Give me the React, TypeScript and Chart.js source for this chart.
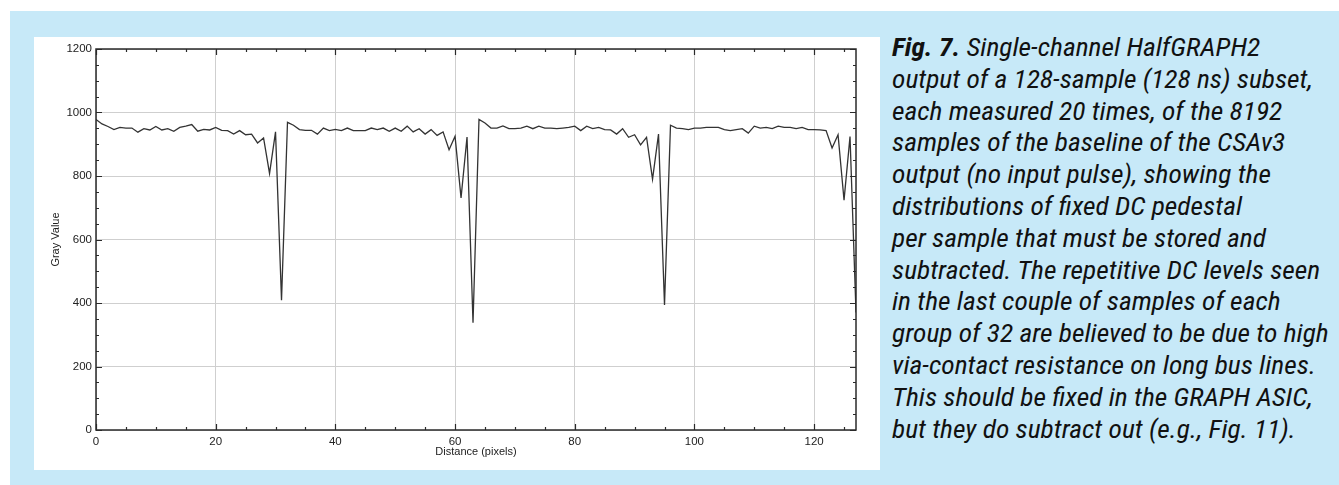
import React, { useEffect, useRef } from "react";
import { Chart, registerables } from "chart.js";

Chart.register(...registerables);

// Gray value per sample, four groups of 32 samples (x = 0..127)
const group1 = [978, 964, 956, 946, 953, 951, 951, 938, 949, 945, 956, 945, 949, 941, 953, 957, 962, 941, 947, 945, 953, 944, 943, 932, 943, 930, 932, 904, 920, 808, 939, 409];
const group2 = [969, 960, 946, 944, 944, 932, 951, 943, 947, 943, 951, 943, 943, 943, 951, 946, 951, 941, 951, 941, 957, 939, 949, 932, 946, 928, 939, 883, 925, 731, 923, 338];
const group3 = [978, 967, 951, 951, 958, 949, 949, 951, 957, 949, 957, 951, 951, 949, 951, 953, 957, 943, 957, 949, 953, 946, 945, 932, 949, 922, 930, 898, 922, 790, 932, 394];
const group4 = [960, 951, 949, 946, 951, 951, 953, 953, 953, 946, 943, 946, 949, 935, 957, 951, 953, 949, 957, 953, 953, 949, 953, 946, 946, 945, 943, 888, 930, 724, 924, 370];

const grayValues = [...group1, ...group2, ...group3, ...group4];

const xTickValues = [0, 20, 40, 60, 80, 100, 120];
const yTickValues = [0, 200, 400, 600, 800, 1000, 1200];
const xLabel = "Distance (pixels)";
const yLabel = "Gray Value";

const captionLines = [
  "Single-channel HalfGRAPH2",
  "output of a 128-sample (128 ns) subset,",
  "each measured 20 times, of the 8192",
  "samples of the baseline of the CSAv3",
  "output (no input pulse), showing the",
  "distributions of fixed DC pedestal",
  "per sample that must be stored and",
  "subtracted. The repetitive DC levels seen",
  "in the last couple of samples of each",
  "group of 32 are believed to be due to high",
  "via-contact resistance on long bus lines.",
  "This should be fixed in the GRAPH ASIC,",
  "but they do subtract out (e.g., Fig. 11).",
];

const framePlugin = {
  id: "frameTicks",
  afterDatasetsDraw(chart: any) {
    const { ctx, chartArea, scales } = chart;
    const xs = scales.x;
    const ys = scales.y;
    const { left, right, top, bottom } = chartArea;
    ctx.save();
    ctx.strokeStyle = "#2a2a2a";
    ctx.lineWidth = 1.2;
    for (let v = 0; v <= 127; v += 5) {
      const px = Math.round(xs.getPixelForValue(v)) + 0.5;
      const len = v % 20 === 0 ? 6 : 3;
      ctx.beginPath();
      ctx.moveTo(px, bottom);
      ctx.lineTo(px, bottom - len);
      ctx.moveTo(px, top);
      ctx.lineTo(px, top + len);
      ctx.stroke();
    }
    for (let v = 0; v <= 1200; v += 50) {
      const py = Math.round(ys.getPixelForValue(v)) + 0.5;
      const len = v % 200 === 0 ? 6 : 3;
      ctx.beginPath();
      ctx.moveTo(left, py);
      ctx.lineTo(left + len, py);
      ctx.moveTo(right, py);
      ctx.lineTo(right - len, py);
      ctx.stroke();
    }
    ctx.lineWidth = 1.5;
    ctx.strokeRect(left, top, right - left, bottom - top);
    ctx.restore();
  },
};

function App() {
  const canvasRef = useRef<HTMLCanvasElement | null>(null);

  useEffect(() => {
    if (!canvasRef.current) return;
    const points = grayValues.map((v, i) => ({ x: i, y: v }));
    const tickFont = { family: "'Liberation Sans', Arial, sans-serif", size: 11.5 };
    const titleFont = { family: "'Liberation Sans', Arial, sans-serif", size: 11 };
    const chart = new Chart(canvasRef.current, {
      type: "line",
      data: {
        datasets: [
          {
            data: points,
            borderColor: "#333333",
            borderWidth: 1.3,
            pointRadius: 0,
            tension: 0,
            fill: false,
          },
        ],
      },
      options: {
        animation: false,
        responsive: false,
        maintainAspectRatio: false,
        layout: { padding: { left: 0, top: 12, right: 24, bottom: 0 } },
        plugins: { legend: { display: false }, tooltip: { enabled: false } },
        scales: {
          x: {
            type: "linear",
            min: 0,
            max: 127,
            afterBuildTicks: (scale: any) => {
              scale.ticks = xTickValues.map((v) => ({ value: v }));
            },
            afterFit: (scale: any) => {
              scale.height = 40;
            },
            ticks: { font: tickFont, color: "#222", padding: 5, maxRotation: 0, callback: (v: any) => String(v) },
            grid: { color: "#cfcfcf", lineWidth: 1, drawTicks: false },
            border: { display: false },
            title: {
              display: true,
              text: xLabel,
              font: titleFont,
              color: "#222",
              padding: { top: 0, bottom: 11 },
            },
          },
          y: {
            type: "linear",
            min: 0,
            max: 1200,
            afterBuildTicks: (scale: any) => {
              scale.ticks = yTickValues.map((v) => ({ value: v }));
            },
            afterFit: (scale: any) => {
              scale.width = 62;
            },
            ticks: { font: tickFont, color: "#222", padding: 4, callback: (v: any) => String(v) },
            grid: { color: "#cfcfcf", lineWidth: 1, drawTicks: false },
            border: { display: false },
            title: {
              display: true,
              text: yLabel,
              font: titleFont,
              color: "#222",
              padding: { top: 15, bottom: 0 },
            },
          },
        },
      },
      plugins: [framePlugin],
    } as any);
    return () => chart.destroy();
  }, []);

  return (
    <div style={{ position: "absolute", left: 0, top: 0, width: 1339, height: 485, background: "#ffffff", overflow: "hidden" }}>
      <div style={{ position: "absolute", left: 10, top: 11, width: 1329, height: 474, background: "#c7e9f8" }} />
      <div style={{ position: "absolute", left: 34, top: 37, width: 846, height: 433, background: "#ffffff" }}>
        <canvas ref={canvasRef} width={846} height={433} style={{ display: "block", width: 846, height: 433 }} />
      </div>
      <div
        style={{
          position: "absolute",
          left: 892,
          top: 32,
          fontFamily: "'Liberation Sans Narrow', 'Arial Narrow', 'Roboto Condensed', sans-serif",
          fontStyle: "italic",
          fontSize: 25,
          lineHeight: "31.8px",
          color: "#111111",
          whiteSpace: "nowrap",
          transform: "scaleX(1.1)",
          transformOrigin: "0 0",
        }}
      >
        {captionLines.map((line, i) => (
          <div key={i}>
            {i === 0 ? <b>Fig. 7. </b> : null}
            {line}
          </div>
        ))}
      </div>
    </div>
  );
}

export default App;
